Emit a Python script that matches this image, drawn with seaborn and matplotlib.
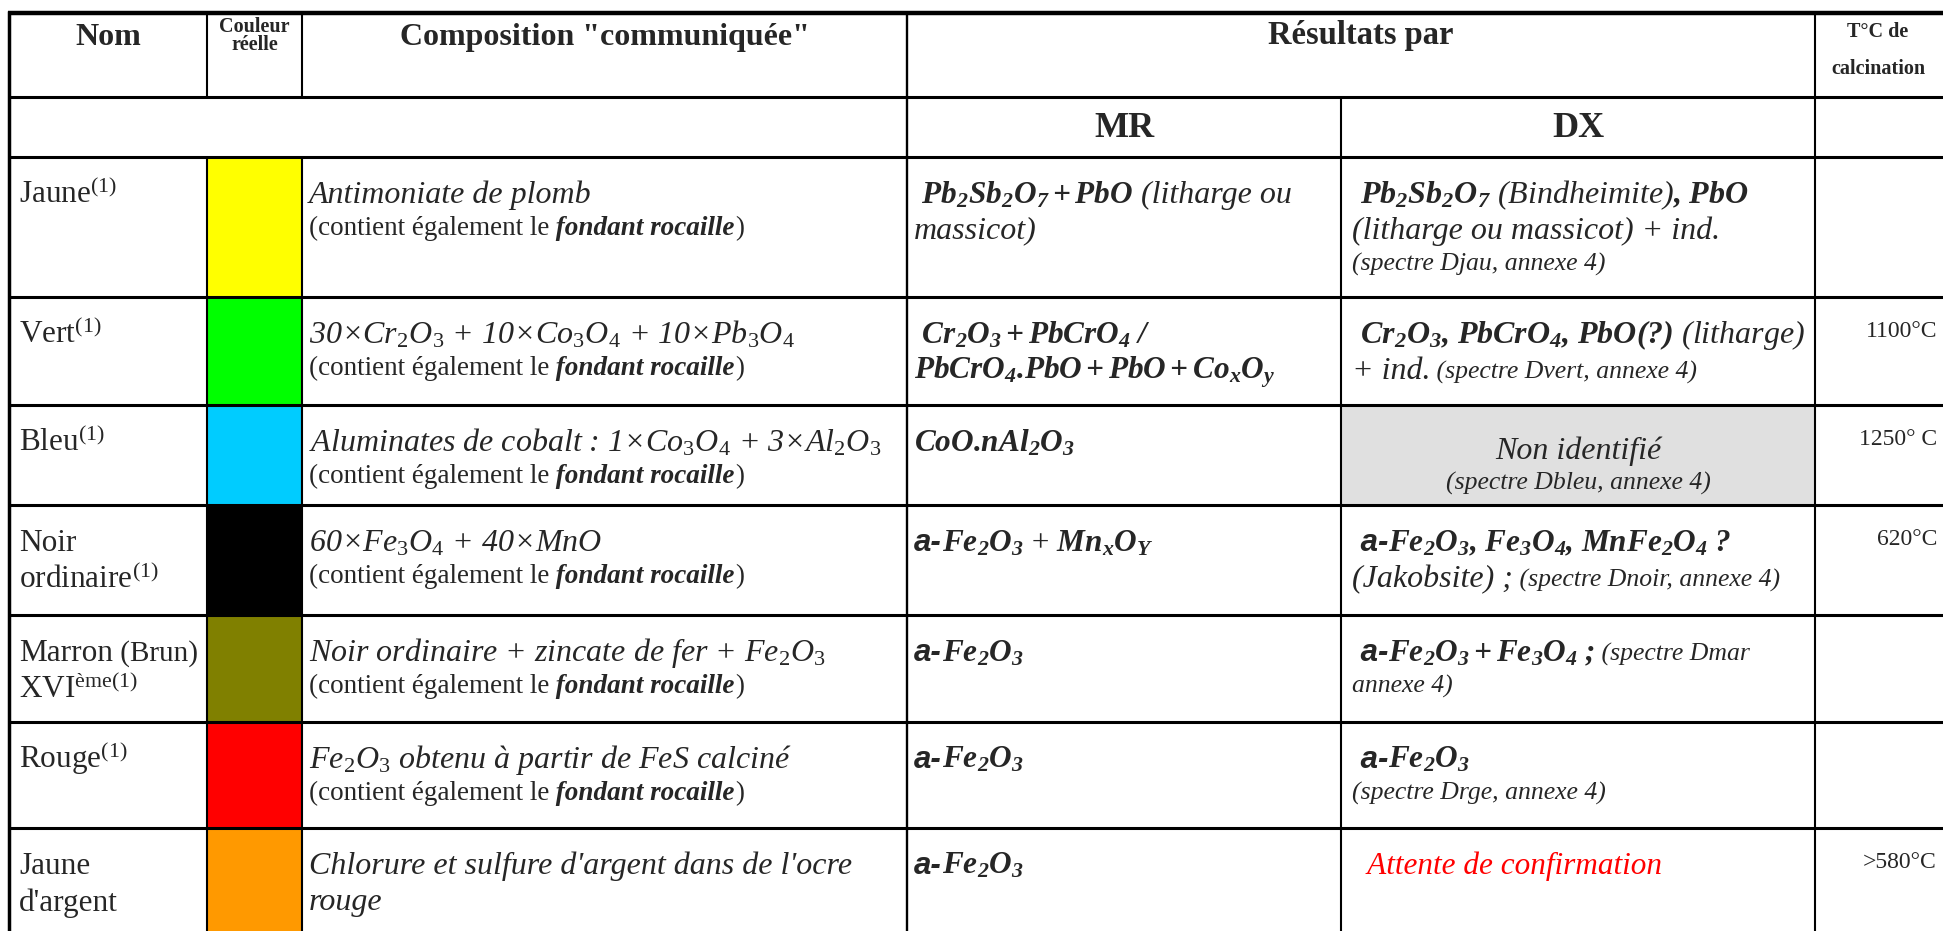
import matplotlib
matplotlib.use('Agg')
import matplotlib.pyplot as plt
import seaborn as sns

# contenu du tableau
noms = [
    [[('Jaune$^{(1)}$', 'n')]],
    [[('Vert$^{(1)}$', 'n')]],
    [[('Bleu$^{(1)}$', 'n')]],
    [[('Noir', 'n')], [('ordinaire$^{(1)}$', 'n')]],
    [[('Marron', 'n'), (' (Brun)', 'm')], [(r'XVI$^{\mathrm{ème(1)}}$', 'n')]],
    [[('Rouge$^{(1)}$', 'n')]],
    [[('Jaune', 'n')], [("d'argent", 'n')]],
]
couleurs = ['#FFFF00', '#00FF00', '#00CCFF', '#000000', '#808000', '#FF0000', '#FF9900']

contient = [('(contient également le', 'c'), (' fondant rocaille', 'cb'), (')', 'c')]
compositions = [
    [[('Antimoniate de plomb', 'i')], contient],
    [[('30×Cr$_2$O$_3$ + 10×Co$_3$O$_4$ + 10×Pb$_3$O$_4$', 'i')], contient],
    [[('Aluminates de cobalt : 1×Co$_3$O$_4$ + 3×Al$_2$O$_3$', 'i')], contient],
    [[('60×Fe$_3$O$_4$ + 40×MnO', 'i')], contient],
    [[('Noir ordinaire + zincate de fer + Fe$_2$O$_3$', 'i')], contient],
    [[('Fe$_2$O$_3$ obtenu à partir de FeS calciné', 'i')], contient],
    [[("Chlorure et sulfure d'argent dans de l'ocre", 'i')], [('rouge', 'i')]],
]

resultats_mr = [
    [[(r' $\mathbfit{Pb_2Sb_2O_7 + PbO}$', 'b'), (' (litharge ou', 'i')], [('massicot)', 'i')]],
    [[(r' $\mathbfit{Cr_2O_3 + PbCrO_4\ /}$', 'b')],
     [(r'$\mathbfit{PbCrO_4}$.$\mathbfit{PbO + PbO + Co_xO_y}$', 'b')]],
    [[(r'$\mathbfit{CoO}$.$\mathbfit{nAl_2O_3}$', 'b')]],
    [[('a-', 'a'), (r'$\mathbfit{Fe_2O_3}$', 'b'), (' +', 'n'), (r' $\mathbfit{Mn_xO_Y}$', 'b')]],
    [[('a-', 'a'), (r'$\mathbfit{Fe_2O_3}$', 'b')]],
    [[('a-', 'a'), (r'$\mathbfit{Fe_2O_3}$', 'b')]],
    [[('a-', 'a'), (r'$\mathbfit{Fe_2O_3}$', 'b')]],
]

resultats_dx = [
    [[(r' $\mathbfit{Pb_2Sb_2O_7}$ (Bindheimite)$\mathbfit{{,}\ PbO}$', 'i')],
     [('(litharge ou massicot) + ind.', 'i')],
     [('(spectre Djau, annexe 4)', 's')]],
    [[(r' $\mathbfit{Cr_2O_3{,}\ PbCrO_4{,}\ PbO(?)}$ (litharge)', 'i')],
     [('+ ind.', 'i'), (' (spectre Dvert, annexe 4)', 's')]],
    [[('Non identifié', 'i')], [('(spectre Dbleu, annexe 4)', 's')]],
    [[(' a-', 'a'), (r'$\mathbfit{Fe_2O_3{,}\ Fe_3O_4{,}\ MnFe_2O_4\ ?}$', 'b')],
     [('(Jakobsite) ;', 'i'), (' (spectre Dnoir, annexe 4)', 's')]],
    [[(' a-', 'a'), (r'$\mathbfit{Fe_2O_3 + Fe_3O_4\ ;}$', 'b'), (' (spectre Dmar', 's')],
     [('annexe 4)', 's')]],
    [[(' a-', 'a'), (r'$\mathbfit{Fe_2O_3}$', 'b')], [('(spectre Drge, annexe 4)', 's')]],
    [[('  Attente de confirmation', 'r')]],
]
dx_non_identifie = [False, False, True, False, False, False, False]
temperatures = ['', '1100°C', '1250° C', '620°C', '', '', '>580°C']

sns.set_theme(style='white')
plt.rcParams['font.family'] = ['Liberation Serif', 'DejaVu Serif']
plt.rcParams['mathtext.fontset'] = 'custom'
plt.rcParams['mathtext.rm'] = 'Liberation Serif'
plt.rcParams['mathtext.it'] = 'Liberation Serif:italic'
plt.rcParams['mathtext.bf'] = 'Liberation Serif:bold'
plt.rcParams['mathtext.bfit'] = 'Liberation Serif:italic:bold'

STYLES = {
    'n': dict(fontsize=22.5),
    'm': dict(fontsize=21),
    'i': dict(fontsize=23, fontstyle='italic'),
    'b': dict(fontsize=22.5, fontstyle='italic', fontweight='bold'),
    'c': dict(fontsize=19.5),
    'cb': dict(fontsize=19.5, fontstyle='italic', fontweight='bold'),
    's': dict(fontsize=18.5, fontstyle='italic'),
    'a': dict(fontsize=22.5, fontstyle='italic', fontweight='bold', family='Liberation Sans'),
    'r': dict(fontsize=22.5, fontstyle='italic', color='#FF0000'),
}

W, H = 1943, 931
fig = plt.figure(figsize=(W / 100, H / 100), dpi=100)
ax = fig.add_axes([0, 0, 1, 1])
ax.set_xlim(0, W)
ax.set_ylim(H, 0)
ax.axis('off')
renderer = fig.canvas.get_renderer()

cols = [9, 207, 302, 907, 1341, 1815]
row_edges = [157, 297, 405, 505, 615, 722, 828, 945]
tops = row_edges[:-1]
heights = [b - t for t, b in zip(row_edges[:-1], row_edges[1:])]

# cases colorées
ax.bar([(cols[1] + cols[2]) / 2] * len(couleurs), heights, bottom=tops,
       width=cols[2] - cols[1], color=couleurs, linewidth=0)
gris = [h if g else 0 for h, g in zip(heights, dx_non_identifie)]
ax.bar([(cols[4] + cols[5]) / 2] * len(gris), gris, bottom=tops,
       width=cols[5] - cols[4], color='#E0E0E0', linewidth=0)


def draw_runs(x, y, parts):
    cur = x
    for s, tag in parts:
        t = ax.text(cur, y, s, va='baseline', ha='left', **STYLES[tag])
        cur += t.get_window_extent(renderer=renderer).width


def draw_cell(x, y, lines, step=None):
    for k, parts in enumerate(lines):
        if k > 0:
            if step:
                y += step
            else:
                y += 36 if STYLES[parts[0][1]]['fontsize'] >= 22 else 32
        draw_runs(x, y, parts)


for i, top in enumerate(tops):
    y0 = top + 46
    draw_cell(19, y0, noms[i], 37)
    draw_cell(309, y0, compositions[i])
    draw_cell(914, y0, resultats_mr[i], 35)
    if dx_non_identifie[i]:
        xc = (cols[4] + cols[5]) / 2
        ax.text(xc, top + 54, resultats_dx[i][0][0][0], ha='center', va='baseline', **STYLES['i'])
        ax.text(xc, top + 85, resultats_dx[i][1][0][0], ha='center', va='baseline', **STYLES['s'])
    else:
        draw_cell(1352, y0, resultats_dx[i])
    if temperatures[i]:
        ax.text(1937, top + 40, temperatures[i], ha='right', va='baseline', fontsize=17)

# en-têtes
hb = dict(fontweight='bold', va='baseline', ha='center')
ax.text((cols[0] + cols[1]) / 2, 45, 'Nom', fontsize=23, **hb)
ax.text((cols[1] + cols[2]) / 2, 32, 'Couleur', fontsize=14.5, **hb)
ax.text((cols[1] + cols[2]) / 2, 50, 'réelle', fontsize=14.5, **hb)
ax.text((cols[2] + cols[3]) / 2, 45, 'Composition "communiquée"', fontsize=23, **hb)
ax.text((cols[3] + cols[5]) / 2, 44, 'Résultats par', fontsize=23.5, **hb)
ax.text(1878, 37, 'T°C de', fontsize=14.5, **hb)
ax.text(1878, 74, 'calcination', fontsize=14.5, **hb)
ax.text((cols[3] + cols[4]) / 2, 137, 'MR', fontsize=26, **hb)
ax.text((cols[4] + cols[5]) / 2, 137, 'DX', fontsize=26, **hb)

# grille
ax.hlines(13, cols[0] - 1, W, colors='black', linewidth=3.2)
ax.hlines([97, 157] + row_edges[1:-1], cols[0], W, colors='black', linewidth=2.2)
ax.vlines(cols[0], 11, H, colors='black', linewidth=2.5)
for x in (cols[1], cols[2]):
    ax.vlines(x, 13, 97, colors='black', linewidth=1.5)
    ax.vlines(x, 157, H, colors='black', linewidth=1.5)
ax.vlines(cols[3], 13, H, colors='black', linewidth=1.7)
ax.vlines(cols[4], 97, H, colors='black', linewidth=1.5)
ax.vlines(cols[5], 13, H, colors='black', linewidth=1.5)

fig.savefig('out.png', dpi=100)
